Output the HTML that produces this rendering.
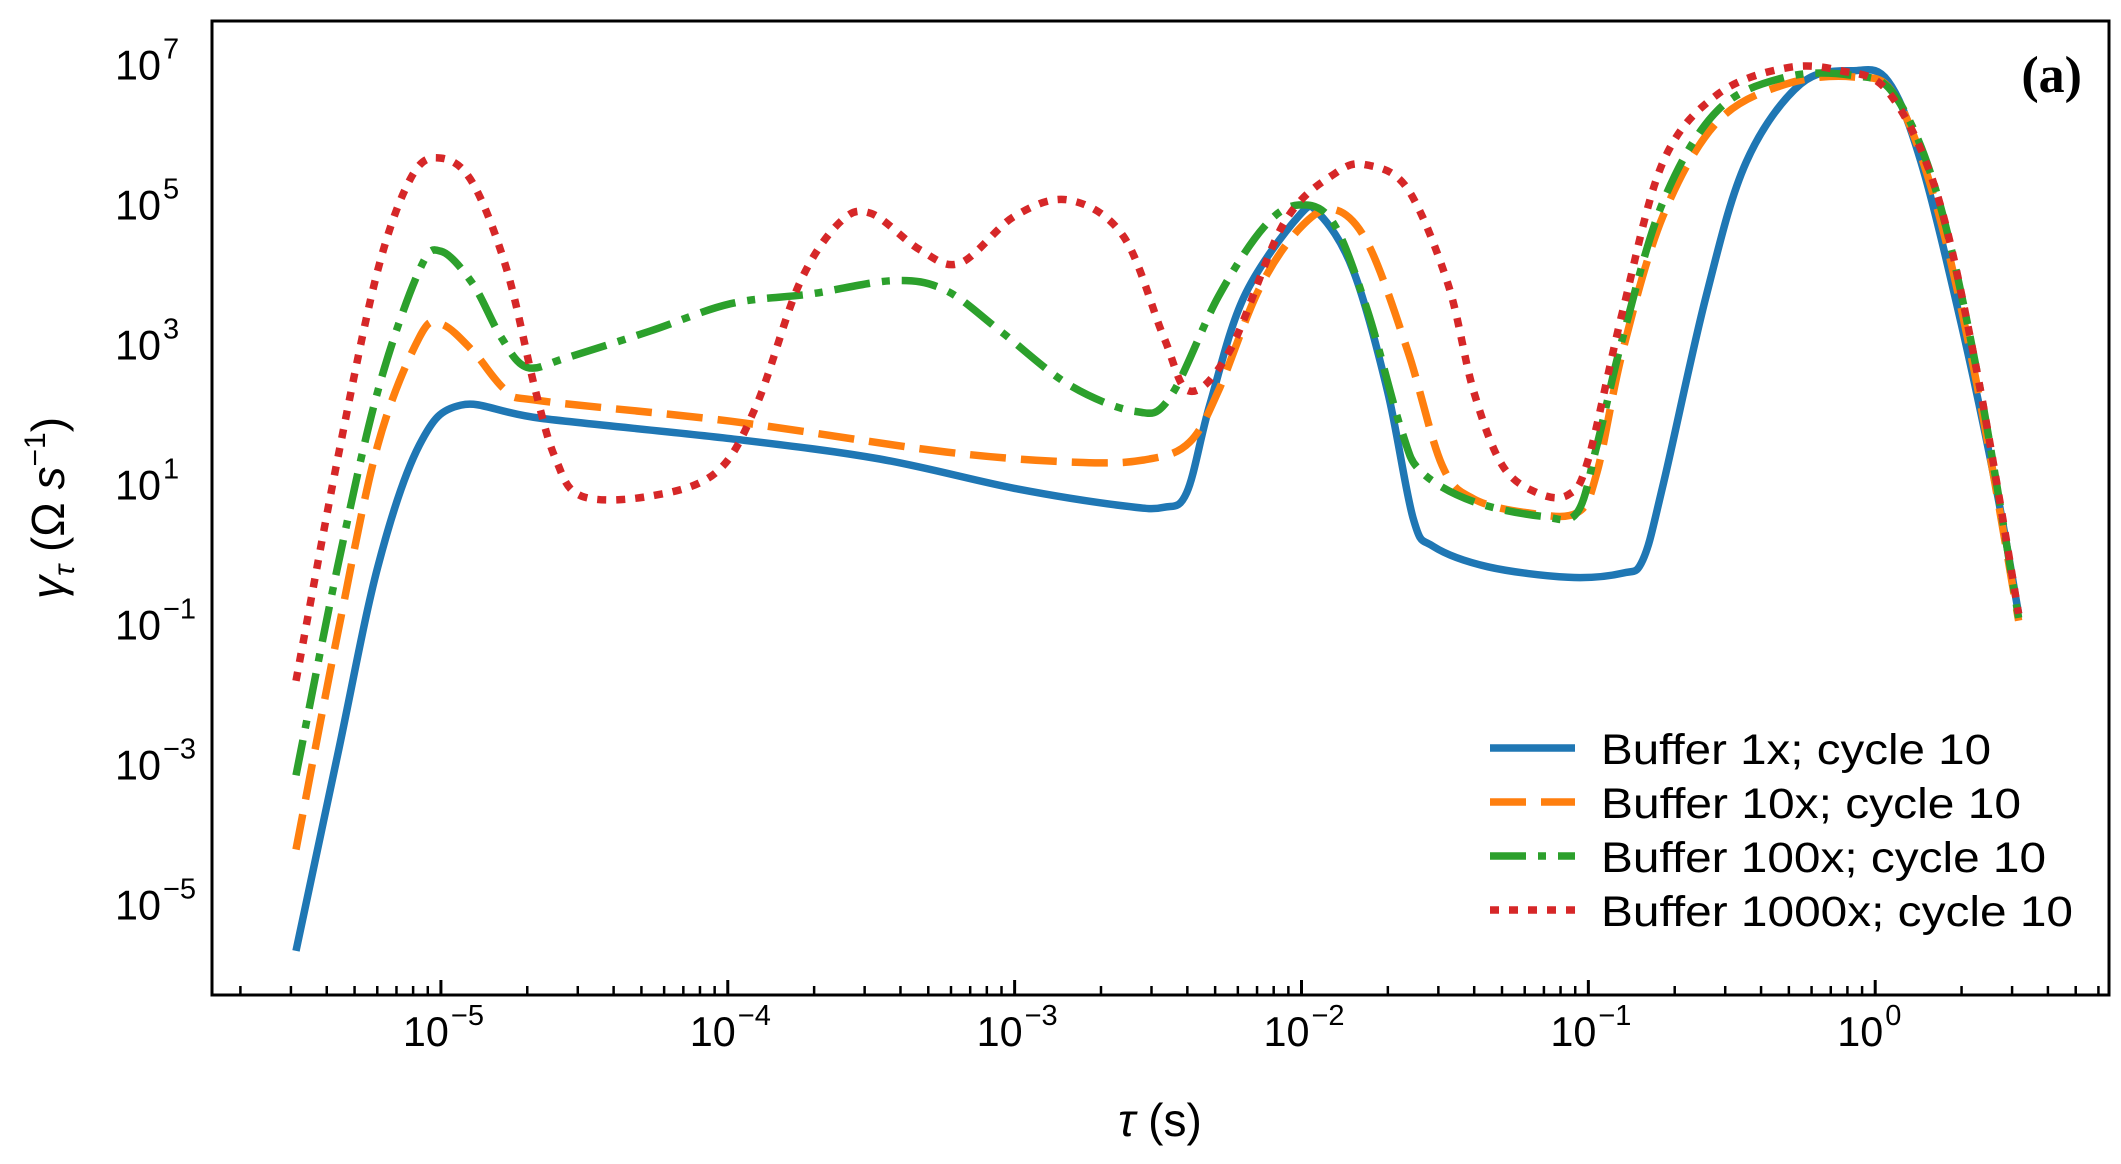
<!DOCTYPE html>
<html><head><meta charset="utf-8"><style>
html,body{margin:0;padding:0;background:#fff;}
svg{display:block;font-family:"Liberation Sans",sans-serif;}
</style></head><body>
<svg id="chart" width="2121" height="1164" viewBox="0 0 2121 1164" xmlns="http://www.w3.org/2000/svg"></svg>
<script>
// Data (log10 tau, log10 gamma)
const seriesNames = ["Buffer 1x; cycle 10","Buffer 10x; cycle 10","Buffer 100x; cycle 10","Buffer 1000x; cycle 10"];
const blueX = [-5.505,-5.36,-5.22,-5.075,-4.93,-4.65,-3.99,-3.47,-3.0,-2.62,-2.48,-2.40,-2.32,-2.20,-2.01,-1.94,-1.82,-1.70,-1.61,-1.54,-1.35,-1.07,-0.88,-0.81,-0.74,-0.59,-0.45,-0.26,-0.075,0.045,0.16,0.30,0.42,0.50];
const blueY = [-5.68,-2.88,-0.19,1.55,2.12,1.93,1.64,1.35,0.93,0.68,0.66,0.87,2.12,3.67,4.82,4.86,4.05,2.32,0.49,0.10,-0.19,-0.34,-0.28,-0.09,0.97,3.67,5.59,6.71,6.90,6.75,5.59,3.28,0.97,-0.86];
const orangeX = [-5.505,-5.36,-5.22,-5.075,-5.0,-4.89,-4.77,-4.65,-3.99,-3.24,-2.76,-2.53,-2.39,-2.29,-2.15,-2.01,-1.89,-1.77,-1.63,-1.51,-1.40,-1.21,-1.04,-0.97,-0.88,-0.74,-0.55,-0.31,-0.075,0.066,0.21,0.35,0.50];
const orangeY = [-4.23,-1.15,1.55,3.09,3.28,2.90,2.32,2.18,1.89,1.45,1.30,1.35,1.59,2.32,3.76,4.63,4.92,4.44,2.90,1.26,0.78,0.58,0.58,1.16,2.90,4.82,6.17,6.71,6.81,6.56,5.02,2.51,-0.96];
const greenX = [-5.505,-5.36,-5.22,-5.075,-5.0,-4.89,-4.79,-4.70,-4.56,-4.27,-3.99,-3.71,-3.42,-3.24,-3.05,-2.81,-2.58,-2.46,-2.29,-2.13,-2.01,-1.89,-1.77,-1.65,-1.58,-1.40,-1.16,-1.04,-0.97,-0.88,-0.74,-0.55,-0.31,-0.075,0.066,0.21,0.35,0.50];
const greenY = [-3.17,-0.19,2.32,4.05,4.32,3.86,3.09,2.66,2.80,3.18,3.57,3.71,3.90,3.76,3.18,2.41,2.03,2.22,3.67,4.67,4.98,4.73,3.47,1.74,1.16,0.74,0.53,0.58,1.55,3.09,5.02,6.33,6.81,6.83,6.56,5.21,2.70,-0.92];
const redX = [-5.505,-5.36,-5.22,-5.10,-5.0,-4.89,-4.77,-4.67,-4.60,-4.51,-4.27,-4.04,-3.90,-3.75,-3.61,-3.50,-3.33,-3.19,-3.0,-2.81,-2.62,-2.48,-2.39,-2.25,-2.06,-1.88,-1.77,-1.63,-1.49,-1.40,-1.30,-1.18,-1.07,-1.0,-0.88,-0.74,-0.55,-0.31,-0.12,0.045,0.21,0.35,0.50];
const redY = [-1.82,1.35,4.05,5.40,5.65,5.30,4.05,2.32,1.35,0.82,0.82,1.16,2.12,3.86,4.73,4.86,4.34,4.15,4.82,5.05,4.53,3.09,2.32,2.90,4.73,5.44,5.55,5.21,3.86,2.32,1.26,0.87,0.84,1.35,3.47,5.59,6.56,6.94,6.90,6.60,5.21,2.70,-0.86];
const xTickExps = [-5,-4,-3,-2,-1,0];
const yTickExps = [7,5,3,1,-1,-3,-5];

const svg = document.getElementById('chart');
const NS = 'http://www.w3.org/2000/svg';
const L=212, R=2109, T=21, B=995;
const xMin=-5.798, xMax=0.815, yMin=-6.31, yMax=7.61;
function sx(v){return L+(v-xMin)/(xMax-xMin)*(R-L);}
function sy(v){return B-(v-yMin)/(yMax-yMin)*(B-T);}
function mk(tag, attrs, parent){const e=document.createElementNS(NS,tag);for(const k in attrs)e.setAttribute(k,attrs[k]);(parent||svg).appendChild(e);return e;}

const defs = mk('defs',{});
const cp = mk('clipPath',{id:'clip'},defs);
mk('rect',{x:L,y:T,width:R-L,height:B-T},cp);

function smooth(xs,ys){
  const p=xs.map((x,i)=>[sx(x),sy(ys[i])]);
  let d='M'+p[0][0].toFixed(1)+','+p[0][1].toFixed(1);
  for(let i=0;i<p.length-1;i++){
    const p0=p[Math.max(0,i-1)],p1=p[i],p2=p[i+1],p3=p[Math.min(p.length-1,i+2)];
    const c1=[p1[0]+(p2[0]-p0[0])/6,p1[1]+(p2[1]-p0[1])/6];
    const c2=[p2[0]-(p3[0]-p1[0])/6,p2[1]-(p3[1]-p1[1])/6];
    d+=' C'+c1[0].toFixed(1)+','+c1[1].toFixed(1)+' '+c2[0].toFixed(1)+','+c2[1].toFixed(1)+' '+p2[0].toFixed(1)+','+p2[1].toFixed(1);
  }
  return d;
}
const styles=[
  {c:'#1f77b4',dash:''},
  {c:'#ff7f0e',dash:'36 15'},
  {c:'#2ca02c',dash:'36 12 8 12'},
  {c:'#d62728',dash:'9 10'}
];
const data=[[blueX,blueY],[orangeX,orangeY],[greenX,greenY],[redX,redY]];
const seriesKeys=['series-buffer-1x','series-buffer-10x','series-buffer-100x','series-buffer-1000x'];
const g=mk('g',{'clip-path':'url(#clip)'});


data.forEach((d,i)=>{
  const p=mk('path',{d:smooth(d[0],d[1]),fill:'none',stroke:styles[i].c,'stroke-width':7.5,'stroke-dasharray':styles[i].dash},g);
  
  
});

const frame=mk('rect',{x:L,y:T,width:R-L,height:B-T,fill:'none',stroke:'#000','stroke-width':3});



for(let e=-6;e<=0;e++){
  for(let m=1;m<10;m++){
    const v=e+Math.log10(m);
    if(v<xMin||v>xMax)continue;
    const x=sx(v);
    const len=m===1?15:9;
    const t=mk('line',{x1:x,x2:x,y1:B,y2:B-len,stroke:'#000','stroke-width':m===1?3:2.5});
    
    
  }
}
function expLabel(bx, by, e, name){
  const t=mk('text',{x:bx,y:by,'font-size':42,fill:'#000',textLength:46,lengthAdjust:'spacingAndGlyphs'});
  t.textContent='10';
  
  
  const s=mk('text',{x:bx+48,y:by-21,'font-size':29,fill:'#000'});
  s.textContent=(e<0?'\u2212':'')+Math.abs(e);
  
  
}
xTickExps.forEach(e=>{ expLabel(sx(e)-38, 1046, e, 'x-tick-label'); });
yTickExps.forEach(e=>{ expLabel(115, sy(e)+16, e, 'y-tick-label'); });

const xt=mk('text',{x:1160,y:1136,'font-size':46,'text-anchor':'middle',fill:'#000'});
xt.innerHTML='<tspan font-style="italic">τ</tspan> (s)';


const yt=mk('text',{x:0,y:0,'font-size':46,'text-anchor':'middle',fill:'#000',transform:'translate(64,508) rotate(-90)'});
yt.innerHTML='<tspan font-style="italic">γ</tspan><tspan font-style="italic" font-size="30" dy="10">τ</tspan><tspan dy="-10"> (Ω </tspan><tspan font-style="italic">s</tspan><tspan font-size="30" dy="-19">−1</tspan><tspan dy="19">)</tspan>';



const pl=mk('text',{x:2082,y:92,'font-size':52,'font-weight':'bold','text-anchor':'end','font-family':'Liberation Serif, serif',fill:'#000'});
pl.textContent='(a)';



const rows=[748,802,856,910];
const widths=[390,420,445,472];
const lg=mk('g',{});


seriesNames.forEach((n,i)=>{
  const ln=mk('line',{x1:1490,x2:1575,y1:rows[i],y2:rows[i],stroke:styles[i].c,'stroke-width':7.5,'stroke-dasharray':styles[i].dash},lg);
  
  
  const t=mk('text',{x:1601,y:rows[i]+16,'font-size':43,fill:'#000',textLength:widths[i],lengthAdjust:'spacingAndGlyphs'},lg);
  t.textContent=n;
  
  
});
</script>
</body></html>
